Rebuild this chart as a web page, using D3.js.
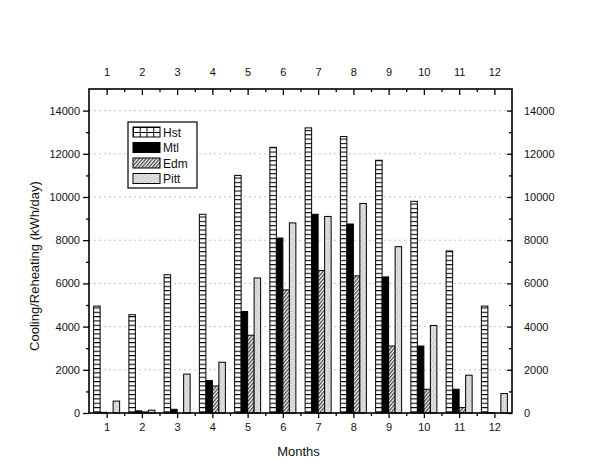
<!DOCTYPE html>
<html>
<head>
<meta charset="utf-8">
<script src="https://cdn.jsdelivr.net/npm/d3@7"></script>
<style>
  body { margin: 0; background: #fff; }
  text { font-family: "Liberation Sans", Arial, sans-serif; fill: #111; }
</style>
</head>
<body>
<div id="container"></div>
<script>
// data
const months = [1, 2, 3, 4, 5, 6, 7, 8, 9, 10, 11, 12];
const seriesNames = ["Hst", "Mtl", "Edm", "Pitt"];
const hst  = [4950, 4550, 6400, 9200, 11000, 12300, 13200, 12800, 11700, 9800, 7500, 4950];
const mtl  = [30, 100, 170, 1500, 4700, 8100, 9200, 8750, 6300, 3100, 1100, 20];
const edm  = [0, 50, 0, 1250, 3600, 5700, 6600, 6350, 3100, 1100, 250, 0];
const pitt = [550, 130, 1800, 2350, 6250, 8800, 9100, 9700, 7700, 4050, 1750, 900];
const yTicks = [0, 2000, 4000, 6000, 8000, 10000, 12000, 14000];

const width = 612, height = 459;
const margin = { top: 89, right: 100, bottom: 46, left: 89 };
const x0 = margin.left, x1 = width - margin.right;
const y0 = height - margin.bottom, y1 = margin.top;

const svg = d3.select("#container").append("svg")
  .attr("width", width).attr("height", height);

const defs = svg.append("defs");

// Hst : ladder of small boxes
const pH = defs.append("pattern").attr("id", "hst")
  .attr("patternUnits", "userSpaceOnUse").attr("width", 40).attr("height", 4.33);
pH.append("rect").attr("width", 40).attr("height", 4.33).attr("fill", "#fff");
pH.append("line").attr("x1", 0).attr("x2", 40).attr("y1", 0.5).attr("y2", 0.5)
  .attr("stroke", "#000").attr("stroke-width", 1);

const pHL = defs.append("pattern").attr("id", "hstLeg")
  .attr("patternUnits", "userSpaceOnUse").attr("width", 6.75).attr("height", 5)
  .attr("x", 133).attr("y", 127);
pHL.append("rect").attr("width", 6.75).attr("height", 5).attr("fill", "#fff");
pHL.append("path").attr("d", "M0,0.5H6.75M0.5,0V5").attr("stroke", "#000").attr("fill", "none");

// Edm : diagonal hatch
const pE = defs.append("pattern").attr("id", "edm")
  .attr("patternUnits", "userSpaceOnUse").attr("width", 2.6).attr("height", 6)
  .attr("patternTransform", "rotate(40)");
pE.append("rect").attr("width", 2.6).attr("height", 6).attr("fill", "#fff");
pE.append("line").attr("x1", 0.7).attr("x2", 0.7).attr("y1", 0).attr("y2", 6)
  .attr("stroke", "#222").attr("stroke-width", 1.1);

// Pitt : light grey stipple
const pP = defs.append("pattern").attr("id", "pitt")
  .attr("patternUnits", "userSpaceOnUse").attr("width", 6).attr("height", 6);
pP.append("rect").attr("width", 6).attr("height", 6).attr("fill", "#e4e4e4");
[[0.5, 0.5], [3.5, 1.5], [1.5, 3.5], [4.5, 4.5], [2.5, 5.5], [5.5, 2.5]].forEach(([a, b]) => {
  pP.append("rect").attr("x", a).attr("y", b).attr("width", 1).attr("height", 1).attr("fill", "#999");
});

const fills = { Hst: "url(#hst)", Mtl: "#000", Edm: "url(#edm)", Pitt: "url(#pitt)" };
const legFills = { Hst: "url(#hstLeg)", Mtl: "#000", Edm: "url(#edm)", Pitt: "url(#pitt)" };
const values = { Hst: hst, Mtl: mtl, Edm: edm, Pitt: pitt };

const x = d3.scaleLinear().domain([0.5, 12.5]).range([x0, x1]);
const xIn = d3.scaleBand().domain(seriesNames).range([-13, 13]);
const y = d3.scaleLinear().domain([0, 15000]).range([y0, y1]);
const fmt = d3.format("d");

// grid lines
svg.append("g").selectAll("line").data(yTicks.slice(1)).join("line")
  .attr("x1", x0).attr("x2", x1)
  .attr("y1", d => y(d)).attr("y2", d => y(d))
  .attr("stroke", "#aaa").attr("stroke-width", 0.7).attr("stroke-dasharray", "2,3");

// bars
const rows = [];
seriesNames.forEach(s => months.forEach((m, i) => rows.push({ s, m, v: values[s][i] })));
svg.append("g").selectAll("rect").data(rows).join("rect")
  .attr("x", d => x(d.m) + xIn(d.s))
  .attr("width", xIn.bandwidth())
  .attr("y", d => y(d.v))
  .attr("height", d => y0 - y(d.v))
  .attr("fill", d => fills[d.s])
  .attr("stroke", "#000").attr("stroke-width", 1);

// axes
const minorX = d3.range(1.5, 12.5, 1);
const minorY = d3.range(1000, 15000, 2000);

svg.append("g").attr("transform", `translate(0,${y0})`)
  .call(d3.axisBottom(x).tickValues(months).tickSize(5).tickPadding(5));
svg.append("g").attr("transform", `translate(0,${y1})`)
  .call(d3.axisTop(x).tickValues(months).tickSize(-6).tickPadding(13));
svg.append("g").attr("transform", `translate(${x0},0)`)
  .call(d3.axisLeft(y).tickValues(yTicks).tickFormat(fmt).tickSize(6).tickPadding(3));
svg.append("g").attr("transform", `translate(${x1},0)`)
  .call(d3.axisRight(y).tickValues(yTicks).tickFormat(fmt).tickSize(-5).tickPadding(12));

svg.append("g").attr("transform", `translate(0,${y0})`)
  .call(d3.axisBottom(x).tickValues(minorX).tickSize(3).tickFormat(""));
svg.append("g").attr("transform", `translate(0,${y1})`)
  .call(d3.axisTop(x).tickValues(minorX).tickSize(-3).tickFormat(""));
svg.append("g").attr("transform", `translate(${x0},0)`)
  .call(d3.axisLeft(y).tickValues(minorY).tickSize(3).tickFormat(""));
svg.append("g").attr("transform", `translate(${x1},0)`)
  .call(d3.axisRight(y).tickValues(minorY).tickSize(-3).tickFormat(""));

svg.selectAll(".domain").remove();
svg.selectAll(".tick line").attr("stroke", "#000").attr("stroke-width", 1.3);
svg.selectAll(".tick text").attr("font-size", 11).attr("fill", "#111");

svg.append("rect").attr("x", x0).attr("y", y1)
  .attr("width", x1 - x0).attr("height", y0 - y1)
  .attr("fill", "none").attr("stroke", "#000").attr("stroke-width", 1.6);

// axis titles
svg.append("text").attr("x", (x0 + x1) / 2 - 2).attr("y", 456)
  .attr("text-anchor", "middle").attr("font-size", 13).text("Months");
svg.append("text").attr("transform", "translate(39,266) rotate(-90)")
  .attr("text-anchor", "middle").attr("font-size", 13).text("Cooling/Reheating (kWh/day)");

// legend
const leg = svg.append("g");
leg.append("rect").attr("x", 128).attr("y", 122).attr("width", 69).attr("height", 66)
  .attr("fill", "#fff").attr("stroke", "#000").attr("stroke-width", 1.2);
seriesNames.forEach((s, i) => {
  const yy = 127 + i * 15.5;
  leg.append("rect").attr("x", 133).attr("y", yy).attr("width", 27).attr("height", 10)
    .attr("fill", legFills[s]).attr("stroke", "#000").attr("stroke-width", 1);
  leg.append("text").attr("x", 163).attr("y", yy + 9.5).attr("font-size", 12).text(s);
});
</script>
</body>
</html>
